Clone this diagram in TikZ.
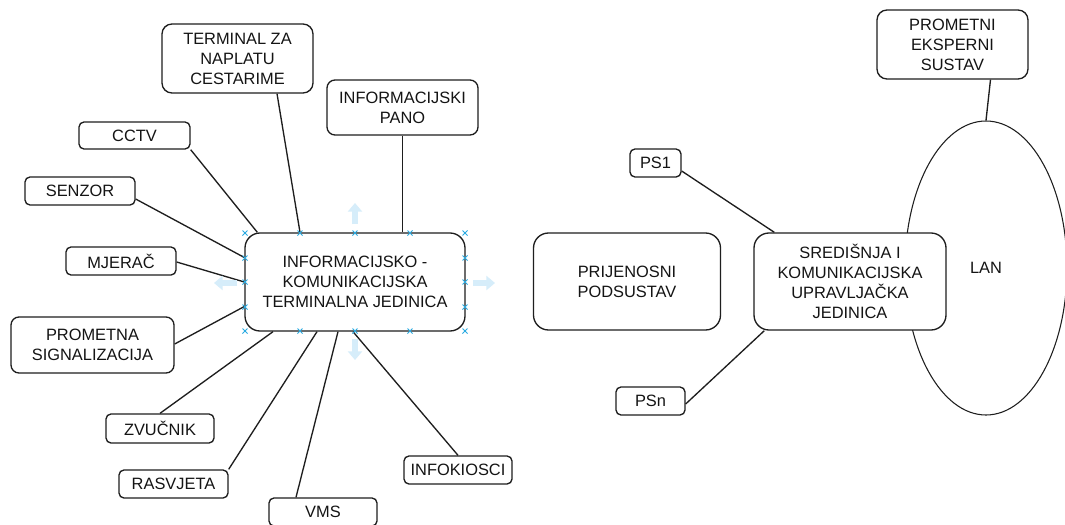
\documentclass[tikz,border=0pt]{standalone}
\usepackage{fontspec}
\setmainfont{Liberation Sans}
\usetikzlibrary{calc,shapes.geometric,arrows.meta}
\definecolor{lncol}{RGB}{30,30,30}
\definecolor{txtcol}{RGB}{20,20,20}
\definecolor{hcol}{RGB}{41,170,225}
\definecolor{acol}{RGB}{214,237,250}
\begin{document}
\begin{tikzpicture}[x=0.75pt,y=-0.75pt,
  bx/.style n args={3}{draw=lncol, line width=1pt, fill=white,
    rounded corners=#3*0.75pt, minimum width=#1*0.75pt, minimum height=#2*0.75pt,
    inner sep=0pt, align=center, text=txtcol, font=\fontsize{12.3}{15}\selectfont},
  conn/.style={draw=lncol, line width=1pt},
  handle/.style={draw=hcol, line width=0.7pt},
  harrow/.style={draw=acol, line width=5pt, -{Triangle[width=10.5pt,length=6.5pt]}}]
\fill[white] (0,0) rectangle (1065,525);
\useasboundingbox (0,0) rectangle (1065,525);
% LAN ellipse (behind)
\node[ellipse, draw=lncol, line width=0.8pt, minimum width=162*0.75pt, minimum height=294*0.75pt,
  inner sep=0pt, text=txtcol, font=\fontsize{12.3}{15}\selectfont] (lan) at (986,268) {LAN};
% boxes
\node[bx={220}{98}{15}] (ict) at (355,282) {INFORMACIJSKO -\\KOMUNIKACIJSKA\\TERMINALNA JEDINICA};
\node[bx={151}{69}{10}] (term) at (237.5,58.5) {TERMINAL ZA\\NAPLATU\\CESTARIME};
\node[bx={151}{55}{8}] (pano) at (402.5,107.5) {INFORMACIJSKI\\PANO};
\node[bx={111}{27}{5}] (cctv) at (134.5,135.5) {CCTV};
\node[bx={110}{28}{5}] (senzor) at (80,191) {SENZOR};
\node[bx={110}{28}{5}] (mjerac) at (121,261) {MJERAČ};
\node[bx={163}{56}{8}] (prometna) at (92.5,345) {PROMETNA\\SIGNALIZACIJA};
\node[bx={108}{29}{5}] (zvucnik) at (160,428.5) {ZVUČNIK};
\node[bx={109}{28}{5}] (rasvjeta) at (173.5,484) {RASVJETA};
\node[bx={108}{28}{5}] (vms) at (323,512) {VMS};
\node[bx={108}{28}{5}] (infok) at (458,470) {INFOKIOSCI};
\node[bx={151}{69}{10}] (pes) at (952.5,44.5) {PROMETNI\\EKSPERNI\\SUSTAV};
\node[bx={51}{28}{5}] (ps1) at (655.5,163) {PS1};
\node[bx={69}{28}{5}] (psn) at (650.5,401) {PSn};
\node[bx={187}{97}{15}] (prij) at (627,281.5) {PRIJENOSNI\\PODSUSTAV};
\node[bx={192}{97}{15}] (sred) at (850,281.5) {SREDIŠNJA I\\KOMUNIKACIJSKA\\UPRAVLJAČKA\\JEDINICA};
% connectors
\draw[conn] ($(term.south)+(39.5,0)$) -- ($(ict.north)+(-55,0)$);
\draw[conn] (pano.south) -- (pano.south |- ict.north);
\draw[conn] (cctv.south east) -- ($(ict.north west)+(13,0)$);
\draw[conn] ($(senzor.east)+(0,8)$) -- ($(ict.west)+(0,-24.5)$);
\draw[conn] ($(mjerac.east)+(0,1)$) -- (ict.west);
\draw[conn] ($(prometna.east)+(0,-1)$) -- ($(ict.west)+(0,24.5)$);
\draw[conn] (zvucnik.north) -- ($(ict.south)+(-82,0)$);
\draw[conn] (rasvjeta.north east) -- ($(ict.south)+(-38,0)$);
\draw[conn] ($(vms.north)+(-27,0)$) -- ($(ict.south)+(-17,0)$);
\draw[conn] (infok.north) -- ($(ict.south)+(-2,0)$);
\draw[conn] ($(ps1.east)+(0,8)$) -- ($(sred.north west)+(21,0)$);
\draw[conn] ($(psn.east)+(0,3)$) -- ($(sred.south west)+(11,0)$);
\draw[conn] ($(pes.south)+(38,0)$) -- (lan.north);
% selection handles
\foreach \x in {245,300,355,410,465} {
  \foreach \y in {233,331} {
    \draw[handle] ({\x-2.5},{\y-2.5}) -- ({\x+2.5},{\y+2.5}) ({\x-2.5},{\y+2.5}) -- ({\x+2.5},{\y-2.5});
  }
}
\foreach \y in {258,282,307} {
  \foreach \x in {245,465} {
    \draw[handle] ({\x-2.5},{\y-2.5}) -- ({\x+2.5},{\y+2.5}) ({\x-2.5},{\y+2.5}) -- ({\x+2.5},{\y-2.5});
  }
}
\draw[harrow] (355,224) -- (355,203);
\draw[harrow] (355,339) -- (355,360);
\draw[harrow] (237,283) -- (214,283);
\draw[harrow] (473,283) -- (495,283);
\end{tikzpicture}
\end{document}
